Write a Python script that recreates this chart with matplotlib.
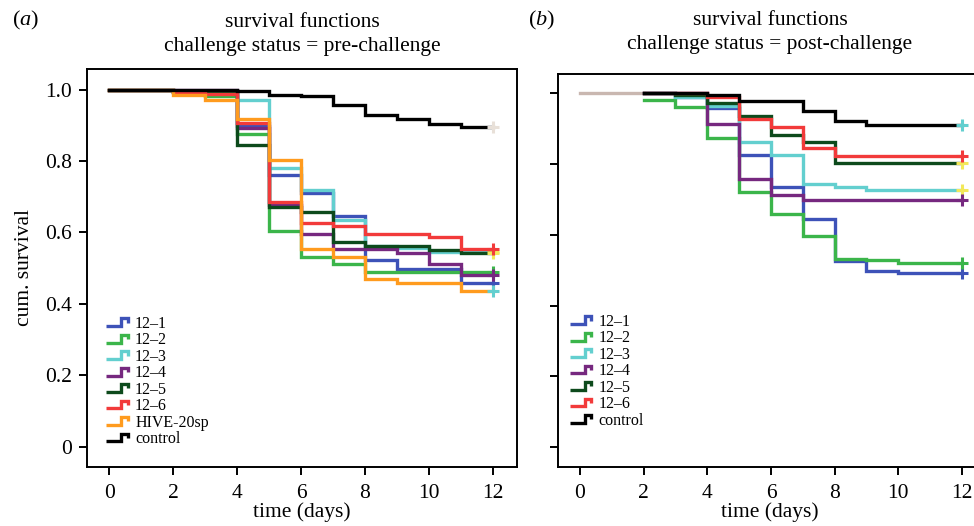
import matplotlib
matplotlib.use("Agg")
import matplotlib.pyplot as plt
from matplotlib.legend_handler import HandlerBase
from matplotlib.lines import Line2D

# ---------------- data ----------------
series_names_pre = ["12–1", "12–2", "12–3", "12–4", "12–5", "12–6", "HIVE-20sp", "control"]
times_pre = [0, 2, 3, 4, 5, 6, 7, 8, 9, 10, 11, 12]
surv_12_1_pre = [1.0, 0.995, 0.995, 0.898, 0.760, 0.711, 0.646, 0.522, 0.499, 0.499, 0.459, 0.459]
surv_12_2_pre = [1.0, 0.993, 0.983, 0.877, 0.604, 0.532, 0.511, 0.490, 0.490, 0.490, 0.490, 0.490]
surv_12_3_pre = [1.0, 0.993, 0.993, 0.971, 0.782, 0.720, 0.636, 0.563, 0.556, 0.546, 0.545, 0.545]
surv_12_4_pre = [1.0, 1.0, 1.0, 0.893, 0.676, 0.595, 0.553, 0.553, 0.543, 0.511, 0.480, 0.480]
surv_12_5_pre = [1.0, 0.993, 0.993, 0.844, 0.672, 0.658, 0.574, 0.563, 0.563, 0.552, 0.543, 0.543]
surv_12_6_pre = [1.0, 0.993, 0.988, 0.908, 0.686, 0.627, 0.618, 0.597, 0.597, 0.586, 0.553, 0.553]
surv_hive_pre = [1.0, 0.985, 0.971, 0.919, 0.804, 0.553, 0.532, 0.469, 0.459, 0.459, 0.437, 0.437]
surv_ctrl_pre = [1.0, 1.0, 1.0, 0.996, 0.986, 0.981, 0.956, 0.928, 0.917, 0.905, 0.896, 0.896]

series_names_post = ["12–1", "12–2", "12–3", "12–4", "12–5", "12–6", "control"]
times_post = [2, 3, 4, 5, 6, 7, 8, 9, 10, 12]
surv_12_1_post = [1.0, 0.990, 0.957, 0.826, 0.736, 0.644, 0.527, 0.499, 0.492, 0.492]
surv_12_2_post = [0.981, 0.962, 0.872, 0.722, 0.659, 0.597, 0.531, 0.529, 0.520, 0.520]
surv_12_3_post = [1.0, 0.990, 0.965, 0.863, 0.826, 0.744, 0.736, 0.727, 0.727, 0.727]
surv_12_4_post = [1.0, 1.0, 0.914, 0.757, 0.713, 0.699, 0.699, 0.699, 0.699, 0.699]
surv_12_5_post = [1.0, 0.995, 0.971, 0.936, 0.881, 0.862, 0.803, 0.803, 0.803, 0.803]
surv_12_6_post = [1.0, 1.0, 0.988, 0.928, 0.905, 0.844, 0.822, 0.822, 0.822, 0.822]
surv_ctrl_post = [1.0, 1.0, 0.994, 0.978, 0.978, 0.950, 0.922, 0.910, 0.910, 0.910]
baseline_times_post = [0, 2]
baseline_surv_post = [1.0, 1.0]

x_ticks = [0, 2, 4, 6, 8, 10, 12]
y_ticks = [0, 0.2, 0.4, 0.6, 0.8, 1.0]
y_ticklabels = ["0", "0.2", "0.4", "0.6", "0.8", "1.0"]

# ---------------- style ----------------
C_BLUE = "#3d52b8"
C_GREEN = "#3bb54a"
C_CYAN = "#63cfcf"
C_PURPLE = "#76287f"
C_DKGREEN = "#0d4a1c"
C_RED = "#f23a3a"
C_ORANGE = "#ff9b1e"
C_BLACK = "#000000"
C_YELLOW = "#f2e85a"

colors_pre = [C_BLUE, C_GREEN, C_CYAN, C_PURPLE, C_DKGREEN, C_RED, C_ORANGE, C_BLACK]
marker_colors_pre = [C_BLUE, C_GREEN, C_YELLOW, C_PURPLE, C_YELLOW, C_RED, C_CYAN, "#e8e0d8"]
colors_post = [C_BLUE, C_GREEN, C_CYAN, C_PURPLE, C_DKGREEN, C_RED, C_BLACK]
marker_colors_post = [C_BLUE, C_GREEN, C_YELLOW, C_PURPLE, C_YELLOW, C_RED, C_CYAN]

plt.rcParams["font.family"] = ["Liberation Serif", "DejaVu Serif"]
plt.rcParams["mathtext.fontset"] = "custom"
plt.rcParams["mathtext.it"] = "Liberation Serif:italic"
plt.rcParams["mathtext.rm"] = "Liberation Serif"

LW = 2.4
W, H = 974, 526
fig = plt.figure(figsize=(W / 100, H / 100), dpi=100)


def px_rect(left, top, right, bottom):
    return [left / W, 1 - bottom / H, (right - left) / W, (bottom - top) / H]


class StepHandler(HandlerBase):
    def create_artists(self, legend, orig_handle, xdescent, ydescent, width, height, fontsize, trans):
        x0, x1 = -xdescent, -xdescent + width
        y0 = -ydescent + 0.15 * height
        y1 = -ydescent + 0.85 * height
        xs = [x0, x0 + 0.68 * width, x0 + 0.68 * width, x1, x1]
        ys = [y0, y0, y1, y1, y0 + 0.45 * (y1 - y0)]
        ln = Line2D(xs, ys, color=orig_handle.get_color(), lw=LW,
                    solid_joinstyle="miter", solid_capstyle="butt", transform=trans)
        return [ln]


def style_axes(ax, xlim, ylim, show_ylabels):
    ax.set_xlim(*xlim)
    ax.set_ylim(*ylim)
    ax.set_xticks(x_ticks)
    ax.set_xticklabels([str(t) for t in x_ticks])
    ax.set_yticks(y_ticks)
    if show_ylabels:
        ax.set_yticklabels(y_ticklabels)
    else:
        ax.set_yticklabels([])
    ax.tick_params(axis="both", direction="out", length=6, width=1.4, labelsize=15.5, pad=5)
    ax.tick_params(axis="x", pad=6)
    for sp in ax.spines.values():
        sp.set_linewidth(1.4)
    ax.set_xlabel("time (days)", fontsize=15.5, labelpad=0)


def draw_panel(ax, times, series, colors, mcolors, names):
    handles = []
    for vals, c, mc, nm in zip(series, colors, mcolors, names):
        (ln,) = ax.step(times, vals, where="post", color=c, lw=LW, label=nm,
                        solid_joinstyle="miter")
        ax.plot([times[-1]], [vals[-1]], marker="+", ms=8, mew=2.2, color=mc,
                linestyle="none")
        handles.append(ln)
    return handles


LEG_KW = dict(frameon=False, fontsize=11.5, handlelength=1.35, handletextpad=0.45,
              labelspacing=0.03, borderpad=0, borderaxespad=0,
              handler_map={Line2D: StepHandler()})

# ---------------- panel (a) ----------------
ax1 = fig.add_axes(px_rect(87, 69, 517, 467))
series_pre = [surv_12_1_pre, surv_12_2_pre, surv_12_3_pre, surv_12_4_pre,
              surv_12_5_pre, surv_12_6_pre, surv_hive_pre, surv_ctrl_pre]
h1 = draw_panel(ax1, times_pre, series_pre, colors_pre, marker_colors_pre, series_names_pre)
style_axes(ax1, (-0.69, 12.75), (-0.057, 1.058), True)
ax1.set_ylabel("cum. survival", fontsize=15.5, labelpad=8)
ax1.set_title("survival functions\nchallenge status = pre-challenge", fontsize=15.5,
              linespacing=1.35, pad=13)
leg1 = ax1.legend(handles=h1, loc="upper left", bbox_to_anchor=(0.045, 0.380), **LEG_KW)

# ---------------- panel (b) ----------------
ax2 = fig.add_axes(px_rect(558, 74, 982, 467))
series_post = [surv_12_1_post, surv_12_2_post, surv_12_3_post, surv_12_4_post,
               surv_12_5_post, surv_12_6_post, surv_ctrl_post]
ax2.plot(baseline_times_post, baseline_surv_post, color="#c9b7b0", lw=LW)
h2 = draw_panel(ax2, times_post, series_post, colors_post, marker_colors_post, series_names_post)
style_axes(ax2, (-0.69, 12.63), (-0.056, 1.054), False)
ax2.spines["right"].set_visible(False)
ax2.set_title("survival functions\nchallenge status = post-challenge", fontsize=15.5,
              linespacing=1.35, pad=18)
leg2 = ax2.legend(handles=h2, loc="upper left", bbox_to_anchor=(0.028, 0.390), **LEG_KW)

# panel letters
fig.text(12 / W, 1 - 20 / H, "($\\mathit{a}$)", fontsize=16, va="center", ha="left")
fig.text(528 / W, 1 - 20 / H, "($\\mathit{b}$)", fontsize=16, va="center", ha="left")

fig.savefig("out.png", dpi=100)
